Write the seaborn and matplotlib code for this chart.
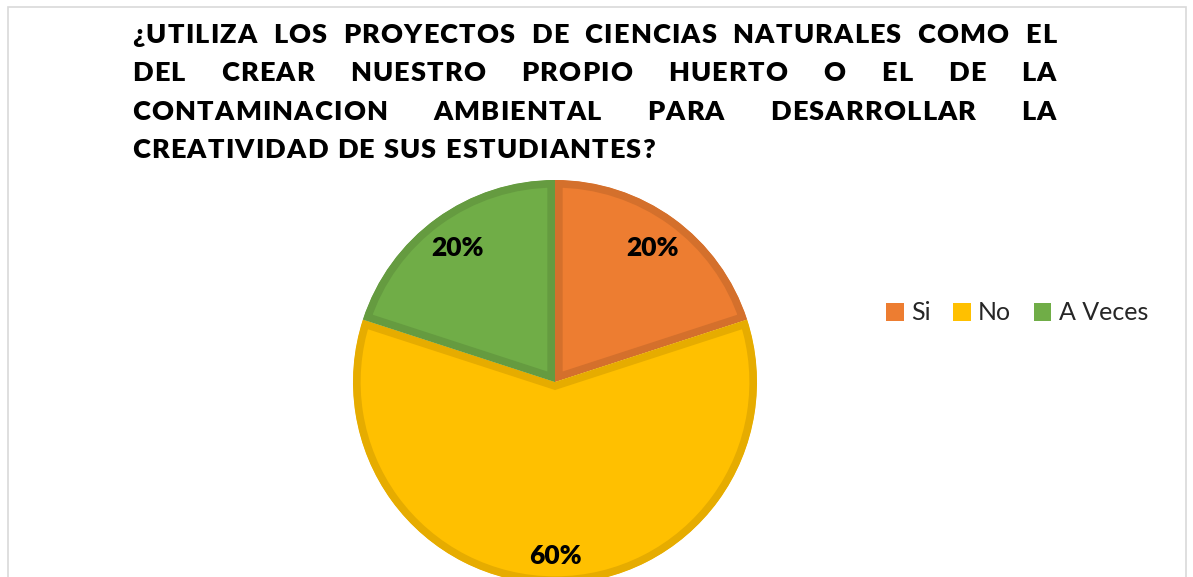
import matplotlib
matplotlib.use("Agg")
import numpy as np
import matplotlib.pyplot as plt
import seaborn as sns
from matplotlib.patches import Rectangle

# Datos del gráfico
categorias = ["Si", "No", "A Veces"]
porcentajes = [20, 60, 20]
colores = ["#ED7D31", "#FFC000", "#70AD47"]
bordes = ["#D4702C", "#E6AC00", "#659B40"]

titulo = [
    "¿UTILIZA LOS PROYECTOS DE CIENCIAS NATURALES COMO EL",
    "DEL CREAR NUESTRO PROPIO HUERTO O EL DE LA",
    "CONTAMINACION AMBIENTAL PARA DESARROLLAR LA",
    "CREATIVIDAD DE SUS ESTUDIANTES?",
]

sns.set_theme(style="white")
plt.rcParams["font.family"] = ["Lato", "DejaVu Sans"]

W, H = 1193, 577
fig = plt.figure(figsize=(W / 100, H / 100), dpi=100)
fig.patch.set_facecolor("white")

# marco gris
fig.patches.append(Rectangle((8 / W, -0.05), (1186 - 8) / W, (H - 7) / H + 0.05,
                             transform=fig.transFigure, fill=False,
                             edgecolor="#D9D9D9", linewidth=1.2))

# pie: centro (555, 382) px, radio 202 px
cx, cy, r = 555, 382, 202
half = 260
ax = fig.add_axes([(cx - half) / W, (H - cy - half) / H, 2 * half / W, 2 * half / H])
wedges, textos, pcts = ax.pie(
    porcentajes, colors=colores, startangle=90, counterclock=False,
    radius=1, autopct="%1.0f%%", pctdistance=0.83,
    wedgeprops=dict(linewidth=11, joinstyle="miter"),
    textprops=dict(fontsize=19, fontweight="heavy", color="black"),
)
# borde interior de cada porción, como en Excel
for w, b in zip(wedges, bordes):
    w.set_edgecolor(b)
    w.set_clip_on(True)
    w.set_clip_path(w)
dist = [0.82, 0.86, 0.82]
for t, w, d in zip(pcts, wedges, dist):
    ang = np.deg2rad((w.theta1 + w.theta2) / 2)
    t.set_position((d * np.cos(ang), d * np.sin(ang)))
lim = half / r
ax.set_xlim(-lim, lim)
ax.set_ylim(-lim, lim)
ax.set_aspect("equal")
ax.axis("off")

# leyenda
fig.legend(wedges, categorias, loc="center left", bbox_to_anchor=(876 / W, 1 - 313 / H),
           ncol=3, frameon=False, fontsize=18, handlelength=0.7, handleheight=0.7,
           handletextpad=0.3, columnspacing=0.9, borderaxespad=0)
leg = fig.legends[0]
for h, c in zip(leg.legend_handles, colores):
    h.set_edgecolor(c)
    h.set_facecolor(c)
    h.set_linewidth(0)
    h.set_clip_path(None)

# título justificado
renderer = fig.canvas.get_renderer()
x0, x1 = 132, 1056
base = [43, 81, 120, 158]
fs = 19.5
props = dict(fontsize=fs, fontweight="heavy", color="black", va="baseline", ha="left")


def ancho_letra(ch):
    t = fig.text(0, 0, ch, **props)
    a = t.get_window_extent(renderer).width
    t.remove()
    return a


espacio = ancho_letra("n") * 0.45
# espaciado entre letras para que la última línea mida como en el original (~523 px)
ult = [ancho_letra(ch) for ch in titulo[-1].replace(" ", "")]
n_esp = titulo[-1].count(" ")
track = (523 - sum(ult) - n_esp * espacio) / (len(titulo[-1]) - 1)
track = max(track, 0)

for i, linea in enumerate(titulo):
    palabras = linea.split()
    letras = [[ancho_letra(ch) for ch in p] for p in palabras]
    anchos = [sum(l) + track * (len(l) - 1) for l in letras]
    if i < len(titulo) - 1:
        gap = (x1 - x0 - sum(anchos)) / (len(palabras) - 1)
    else:
        gap = espacio + 2 * track
    x = x0
    y = 1 - base[i] / H
    for p, l, a in zip(palabras, letras, anchos):
        xc = x
        for ch, wch in zip(p, l):
            fig.text(xc / W, y, ch, **props)
            xc += wch + track
        x += a + gap

fig.savefig("out.png", dpi=100, facecolor="white")
